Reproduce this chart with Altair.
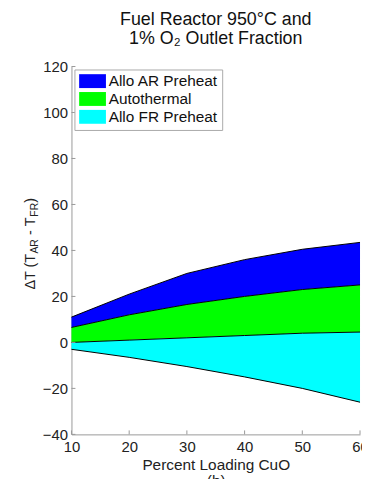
import altair as alt
import pandas as pd

# Data
loading = [10, 20, 30, 40, 50, 60]
ar_upper = [11, 21, 30, 36, 40.5, 43.5]      # top of Allo AR Preheat band
auto_upper = [6.5, 12, 16.5, 20, 23, 25]     # top of Autothermal band
fr_upper = [0, 1, 2, 3, 4, 4.5]              # top of Allo FR Preheat band
fr_lower = [-3, -6.5, -10.5, -15, -20, -26]  # bottom of Allo FR Preheat band

series = ["Allo AR Preheat", "Autothermal", "Allo FR Preheat"]
colors = ["#0000ff", "#00ff00", "#00ffff"]
x_ticks = [10, 20, 30, 40, 50, 60]
y_ticks = [-40, -20, 0, 20, 40, 60, 80, 100, 120]

W, H = 291, 371
FONT = "Liberation Sans"
AXC = "#999"

rows = []
for i, x in enumerate(loading):
    rows.append({"series": series[0], "x": x, "lo": auto_upper[i], "hi": ar_upper[i]})
    rows.append({"series": series[1], "x": x, "lo": fr_upper[i], "hi": auto_upper[i]})
    rows.append({"series": series[2], "x": x, "lo": fr_lower[i], "hi": fr_upper[i]})
bands = pd.DataFrame(rows)

lines = []
for name, vals in [("a", ar_upper), ("b", auto_upper), ("c", fr_upper), ("d", fr_lower)]:
    for x, v in zip(loading, vals):
        lines.append({"line": name, "x": x, "y": v})
lines = pd.DataFrame(lines)

xs = alt.Scale(domain=[10, 60], nice=False)
ys = alt.Scale(domain=[-40, 120], nice=False)

xaxis = alt.Axis(values=x_ticks, title=["Percent Loading CuO", "(b)"], grid=False,
                 tickSize=0, labelPadding=5, labelFontSize=15, labelFont=FONT,
                 labelColor="#222", titleFont=FONT, titleFontSize=15.5,
                 titleFontWeight="normal", titleColor="#222", titlePadding=3,
                 titleLineHeight=17, domainColor=AXC, labelFlush=False)
yaxis = alt.Axis(values=y_ticks, title=None, grid=False, tickSize=0, labelPadding=4,
                 labelFontSize=15, labelFont=FONT, labelColor="#222",
                 domainColor=AXC)

area = alt.Chart(bands).mark_area(opacity=1, strokeWidth=0).encode(
    x=alt.X("x:Q", scale=xs, axis=xaxis),
    y=alt.Y("lo:Q", scale=ys, axis=yaxis),
    y2="hi:Q",
    color=alt.Color("series:N",
                    scale=alt.Scale(domain=series, range=colors),
                    sort=series,
                    legend=alt.Legend(
                        title=None, orient="none", legendX=3, legendY=3,
                        fillColor="white", strokeColor="#aaa", padding=4,
                        symbolType="M-1,-1H2.86V1H-1Z", symbolSize=196,
                        symbolStrokeWidth=0, symbolOpacity=1,
                        labelFont=FONT, labelFontSize=15.5, labelColor="#111",
                        labelOffset=15, rowPadding=1)),
)

line = alt.Chart(lines).mark_line(color="black", strokeWidth=1).encode(
    x=alt.X("x:Q", scale=xs), y=alt.Y("y:Q", scale=ys), detail="line:N"
)

xt = alt.Chart(pd.DataFrame({"t": x_ticks})).mark_rule(color=AXC).encode(
    x=alt.X("t:Q", scale=xs), y=alt.value(H), y2=alt.value(H - 4)
)
yt = alt.Chart(pd.DataFrame({"t": y_ticks})).mark_rule(color=AXC).encode(
    y=alt.Y("t:Q", scale=ys), x=alt.value(0), x2=alt.value(4)
)

# y-axis title pieces with subscripts (rotated)
pieces = [
    ("ΔT (T", 14.5, 225, -37),
    ("AR", 10.5, 188.7, -34),
    ("-", 14.5, 170, -37),
    ("T", 14.5, 161, -37),
    ("FR", 10.5, 151.5, -34),
    (")", 14.5, 137.5, -37),
]
ytitle = []
for txt, fs, yy, xx in pieces:
    ytitle.append(
        alt.Chart(pd.DataFrame({"t": [txt]})).mark_text(
            angle=270, align="left", baseline="alphabetic", font=FONT,
            fontSize=fs, color="#222"
        ).encode(text="t:N", x=alt.value(xx), y=alt.value(yy))
    )

chart = alt.layer(area, line, xt, yt, *ytitle).properties(
    width=W, height=H,
    title=alt.TitleParams(["Fuel Reactor 950°C and", "1% O₂ Outlet Fraction"],
                          font=FONT, fontSize=18, fontWeight="normal",
                          color="#111", anchor="middle", offset=12, lineHeight=19),
    autosize=alt.AutoSizeParams(type="none"),
    padding={"left": 64, "top": 57, "right": 2, "bottom": 43},
).configure_view(stroke=None).configure_axis(domainWidth=1)

chart.save("out.html", embed_options={"renderer": "svg", "actions": False})
